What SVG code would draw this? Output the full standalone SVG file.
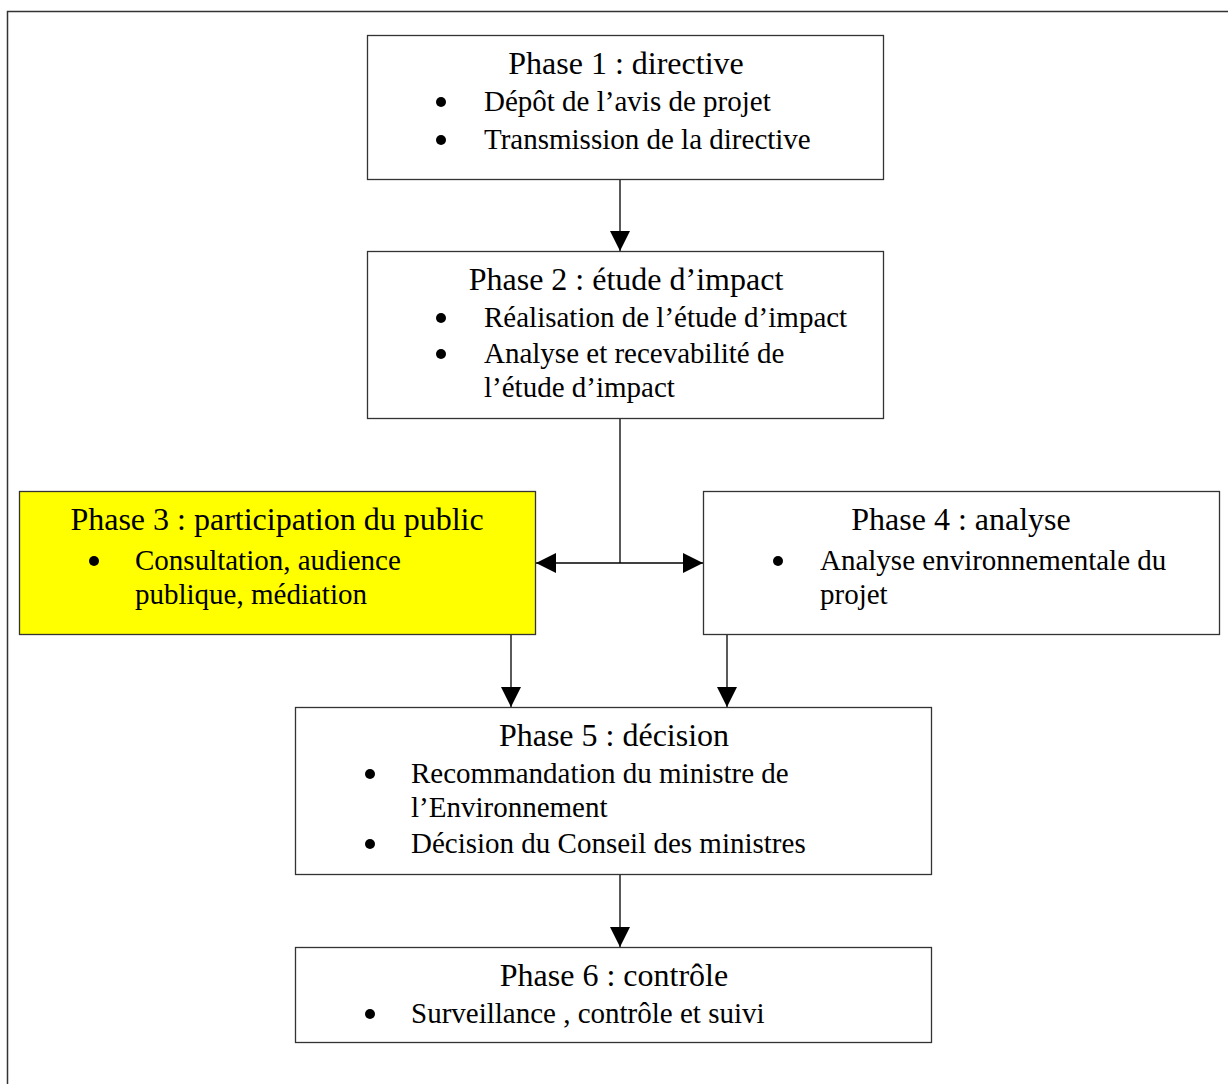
<svg xmlns="http://www.w3.org/2000/svg" width="1228" height="1084" viewBox="0 0 1228 1084">
<style>
.box{fill:#fff;stroke:#333;stroke-width:1.3}
.yel{fill:#ffff00}
.t{font-family:"Liberation Serif","Times New Roman",serif;font-size:29px;fill:#000}
.c{text-anchor:middle;font-size:32px}
.con{stroke:#000;stroke-width:1.3;fill:none}
</style>
<defs>
<marker id="ah" markerUnits="userSpaceOnUse" markerWidth="20" markerHeight="20" refX="20" refY="10" orient="auto" viewBox="0 0 20 20">
<path d="M0,0 L20,10 L0,20 z" fill="#000"/>
</marker>
</defs>
<rect x="7.5" y="11.5" width="1260" height="1120" fill="none" stroke="#333" stroke-width="1.5"/>
<g id="connectors">
<line class="con" x1="620" y1="179" x2="620" y2="251" marker-end="url(#ah)"/>
<line class="con" x1="620" y1="418" x2="620" y2="563"/>
<line class="con" x1="620" y1="563" x2="536" y2="563" marker-end="url(#ah)"/>
<line class="con" x1="620" y1="563" x2="703" y2="563" marker-end="url(#ah)"/>
<line class="con" x1="511" y1="634" x2="511" y2="707" marker-end="url(#ah)"/>
<line class="con" x1="727" y1="634" x2="727" y2="707" marker-end="url(#ah)"/>
<line class="con" x1="620" y1="874" x2="620" y2="947" marker-end="url(#ah)"/>
</g>
<g id="phase1">
<rect class="box" x="367.5" y="35.5" width="516" height="144"/>
<text class="t c" x="626" y="74">Phase 1 : directive</text>
<circle cx="441" cy="102" r="5"/>
<text class="t" x="484" y="111">Dépôt de l’avis de projet</text>
<circle cx="441" cy="140" r="5"/>
<text class="t" x="484" y="149">Transmission de la directive</text>
</g>
<g id="phase2">
<rect class="box" x="367.5" y="251.5" width="516" height="167"/>
<text class="t c" x="626" y="290">Phase 2 : étude d’impact</text>
<circle cx="441" cy="318" r="5"/>
<text class="t" x="484" y="327">Réalisation de l’étude d’impact</text>
<circle cx="441" cy="354" r="5"/>
<text class="t" x="484" y="363">Analyse et recevabilité de</text>
<text class="t" x="484" y="397">l’étude d’impact</text>
</g>
<g id="phase3">
<rect class="box yel" x="19.5" y="491.5" width="516" height="143"/>
<text class="t c" x="277" y="530">Phase 3 : participation du public</text>
<circle cx="94" cy="561" r="5"/>
<text class="t" x="135" y="570">Consultation, audience</text>
<text class="t" x="135" y="604">publique, médiation</text>
</g>
<g id="phase4">
<rect class="box" x="703.5" y="491.5" width="516" height="143"/>
<text class="t c" x="961" y="530">Phase 4 : analyse</text>
<circle cx="778" cy="561" r="5"/>
<text class="t" x="820" y="570">Analyse environnementale du</text>
<text class="t" x="820" y="604">projet</text>
</g>
<g id="phase5">
<rect class="box" x="295.5" y="707.5" width="636" height="167"/>
<text class="t c" x="614" y="746">Phase 5 : décision</text>
<circle cx="370" cy="774" r="5"/>
<text class="t" x="411" y="783">Recommandation du ministre de</text>
<text class="t" x="411" y="817">l’Environnement</text>
<circle cx="370" cy="844" r="5"/>
<text class="t" x="411" y="853">Décision du Conseil des ministres</text>
</g>
<g id="phase6">
<rect class="box" x="295.5" y="947.5" width="636" height="95"/>
<text class="t c" x="614" y="986">Phase 6 : contrôle</text>
<circle cx="370" cy="1014" r="5"/>
<text class="t" x="411" y="1023">Surveillance , contrôle et suivi</text>
</g>
</svg>
